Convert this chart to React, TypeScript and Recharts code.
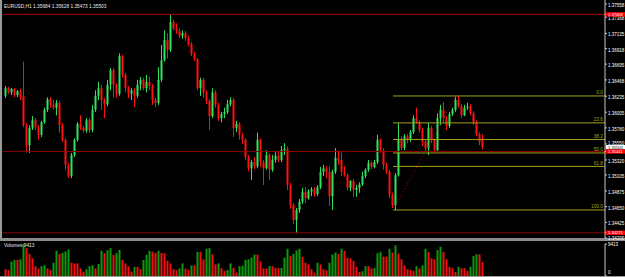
import { Bar, Cell, ComposedChart, ReferenceLine, XAxis, YAxis } from 'recharts';

const opens = [
  1.3624, 1.3635, 1.3629, 1.3634, 1.3625, 1.3631, 1.3624, 1.3582, 1.3553, 1.3578,
  1.3589, 1.3579, 1.3568, 1.3586, 1.3604, 1.3619, 1.3611, 1.3607, 1.3614, 1.3582,
  1.3561, 1.3525, 1.3509, 1.3539, 1.3561, 1.3584, 1.3578, 1.3574, 1.3589, 1.3575,
  1.3604, 1.3624, 1.3635, 1.3618, 1.3612, 1.364, 1.3661, 1.364, 1.3627, 1.3681,
  1.3654, 1.3635, 1.3627, 1.3632, 1.3624, 1.364, 1.3647, 1.3635, 1.3644, 1.3638,
  1.3618, 1.3614, 1.3647, 1.3675, 1.3704, 1.369, 1.373, 1.3721, 1.3717, 1.371,
  1.3714, 1.3707, 1.3698, 1.3684, 1.3677, 1.3635, 1.3647, 1.3629, 1.3617, 1.3595,
  1.3629, 1.3611, 1.3592, 1.3598, 1.3601, 1.3612, 1.3618, 1.3578, 1.3584, 1.3568,
  1.3561, 1.3536, 1.352, 1.3529, 1.3523, 1.3561, 1.3529, 1.352, 1.3539, 1.3518,
  1.3532, 1.3538, 1.3532, 1.3546, 1.3548, 1.3496, 1.3467, 1.3446, 1.346, 1.3472,
  1.3486, 1.3477, 1.3487, 1.349, 1.3483, 1.3493, 1.3515, 1.352, 1.3515, 1.348,
  1.3515, 1.3535, 1.3532, 1.3515, 1.351, 1.3492, 1.3502, 1.3489, 1.3492, 1.3497,
  1.3509, 1.3518, 1.3528, 1.3522, 1.3529, 1.3561, 1.3546, 1.3525, 1.3515, 1.3482,
  1.3467, 1.351, 1.3561, 1.3549, 1.3566, 1.3561, 1.3572, 1.3592, 1.3586, 1.3575,
  1.3558, 1.3549, 1.3578, 1.3561, 1.3546, 1.3592, 1.3604, 1.3592, 1.3581, 1.3598,
  1.3604, 1.3618, 1.3609, 1.3596, 1.3607, 1.3609, 1.3599, 1.3586, 1.3569, 1.35628,
];
const highs = [
  1.3638, 1.3637, 1.3635, 1.3635, 1.3632, 1.3634, 1.3673, 1.3585, 1.3582, 1.3595,
  1.3592, 1.3582, 1.3588, 1.3607, 1.3622, 1.3622, 1.3618, 1.3618, 1.3617, 1.3585,
  1.3563, 1.3528, 1.3542, 1.3563, 1.3586, 1.3596, 1.3581, 1.3592, 1.3592, 1.3611,
  1.3632, 1.3644, 1.364, 1.3621, 1.3647, 1.3664, 1.3664, 1.3642, 1.3685, 1.3683,
  1.3657, 1.3638, 1.3635, 1.3635, 1.3647, 1.3651, 1.365, 1.3654, 1.3652, 1.3641,
  1.3621, 1.3665, 1.3697, 1.3718, 1.3714, 1.374, 1.3733, 1.3728, 1.3721, 1.3718,
  1.3717, 1.371, 1.3701, 1.3687, 1.3678, 1.365, 1.365, 1.3632, 1.3619, 1.3635,
  1.3632, 1.3614, 1.3601, 1.3607, 1.3618, 1.3622, 1.3621, 1.3588, 1.3586, 1.3571,
  1.3563, 1.3539, 1.3532, 1.3536, 1.3571, 1.3563, 1.3532, 1.3546, 1.3542, 1.3539,
  1.3543, 1.3543, 1.3552, 1.3556, 1.3551, 1.3499, 1.347, 1.3463, 1.3476, 1.3492,
  1.3493, 1.349, 1.3493, 1.3493, 1.3496, 1.3522, 1.3525, 1.3523, 1.3523, 1.3518,
  1.3549, 1.3546, 1.3543, 1.3523, 1.3513, 1.3503, 1.3505, 1.3496, 1.35, 1.3515,
  1.352, 1.3532, 1.353, 1.3532, 1.3568, 1.3563, 1.3549, 1.3528, 1.3518, 1.3485,
  1.3513, 1.3585, 1.3566, 1.3569, 1.3569, 1.3575, 1.3596, 1.3607, 1.3589, 1.3578,
  1.3561, 1.3585, 1.3581, 1.3563, 1.3599, 1.3611, 1.3615, 1.3595, 1.3601, 1.3607,
  1.3624, 1.3624, 1.3612, 1.3611, 1.3614, 1.3612, 1.3602, 1.3589, 1.3572, 1.35684,
];
const lows = [
  1.3621, 1.3627, 1.3625, 1.3622, 1.3622, 1.3618, 1.3579, 1.3543, 1.3542, 1.3575,
  1.3575, 1.3561, 1.3565, 1.3584, 1.3601, 1.3607, 1.3604, 1.3596, 1.3571, 1.3558,
  1.3518, 1.3506, 1.3506, 1.3536, 1.3558, 1.3575, 1.3571, 1.3571, 1.3571, 1.3572,
  1.3601, 1.3618, 1.3604, 1.3592, 1.3609, 1.3632, 1.3622, 1.3621, 1.3624, 1.365,
  1.3629, 1.3621, 1.3618, 1.3608, 1.3621, 1.3632, 1.3632, 1.3629, 1.3632, 1.3611,
  1.3608, 1.3611, 1.3644, 1.3673, 1.3678, 1.3687, 1.3718, 1.3713, 1.3707, 1.3706,
  1.3703, 1.3695, 1.3681, 1.3674, 1.3632, 1.3624, 1.3621, 1.3612, 1.3575, 1.3592,
  1.3607, 1.3588, 1.3586, 1.3592, 1.3598, 1.3609, 1.3565, 1.3572, 1.3561, 1.3555,
  1.3532, 1.3516, 1.3503, 1.3519, 1.352, 1.3522, 1.3496, 1.3518, 1.3503, 1.3515,
  1.3528, 1.3529, 1.3529, 1.3539, 1.3489, 1.3462, 1.344, 1.3427, 1.3456, 1.3469,
  1.347, 1.3475, 1.348, 1.3479, 1.348, 1.349, 1.3509, 1.3506, 1.3466, 1.346,
  1.3512, 1.3525, 1.3509, 1.3508, 1.3489, 1.3487, 1.3479, 1.3479, 1.3485, 1.3495,
  1.3506, 1.3515, 1.3519, 1.352, 1.3526, 1.3542, 1.3518, 1.3512, 1.3477, 1.3463,
  1.346, 1.3508, 1.3546, 1.3546, 1.3556, 1.3558, 1.3569, 1.3584, 1.3571, 1.3552,
  1.3543, 1.3539, 1.3556, 1.3542, 1.3543, 1.3582, 1.3586, 1.3575, 1.3578, 1.3595,
  1.3601, 1.3607, 1.3592, 1.3595, 1.3604, 1.3596, 1.3582, 1.3566, 1.3553, 1.35473,
];
const closes = [
  1.3635, 1.3629, 1.3634, 1.3625, 1.3631, 1.3622, 1.3582, 1.3553, 1.3578, 1.3589,
  1.3579, 1.3568, 1.3586, 1.3604, 1.3619, 1.3611, 1.3607, 1.3614, 1.3582, 1.3561,
  1.3525, 1.3509, 1.3539, 1.3561, 1.3584, 1.3578, 1.3574, 1.3589, 1.3575, 1.3604,
  1.3624, 1.3635, 1.3618, 1.3612, 1.364, 1.3661, 1.364, 1.3627, 1.3681, 1.3654,
  1.3635, 1.3627, 1.3632, 1.3624, 1.364, 1.3647, 1.3635, 1.3644, 1.3638, 1.3618,
  1.3614, 1.3647, 1.3675, 1.3704, 1.369, 1.373, 1.3721, 1.3717, 1.371, 1.3714,
  1.3707, 1.3698, 1.3684, 1.3677, 1.3635, 1.3647, 1.3629, 1.3617, 1.3595, 1.3629,
  1.3611, 1.3592, 1.3598, 1.3601, 1.3612, 1.3618, 1.3578, 1.3584, 1.3568, 1.3561,
  1.3536, 1.352, 1.3529, 1.3523, 1.3561, 1.3529, 1.352, 1.3539, 1.3518, 1.3532,
  1.3538, 1.3532, 1.3546, 1.3548, 1.3496, 1.3467, 1.3446, 1.346, 1.3472, 1.3486,
  1.3477, 1.3487, 1.349, 1.3483, 1.3493, 1.3515, 1.352, 1.3515, 1.348, 1.3515,
  1.3535, 1.3532, 1.3515, 1.351, 1.3492, 1.3502, 1.3489, 1.3492, 1.3497, 1.3509,
  1.3518, 1.3528, 1.3522, 1.3529, 1.3561, 1.3546, 1.3525, 1.3515, 1.3482, 1.3467,
  1.351, 1.3561, 1.3549, 1.3566, 1.3561, 1.3572, 1.3592, 1.3586, 1.3575, 1.3558,
  1.3549, 1.3578, 1.3561, 1.3546, 1.3592, 1.3604, 1.3592, 1.3581, 1.3598, 1.3604,
  1.3618, 1.3609, 1.3596, 1.3607, 1.3609, 1.3599, 1.3586, 1.3569, 1.3558, 1.35503,
];
const volumes = [
  2000, 1800, 4200, 4700, 4700, 4900, 9413, 8200, 6500, 5200,
  2900, 2200, 2900, 3200, 2200, 1800, 3900, 7400, 6500, 6800,
  7200, 7800, 3900, 3700, 3700, 2200, 1300, 2000, 2900, 3200,
  2200, 3500, 7400, 6700, 7600, 8200, 6200, 6700, 7700, 4700,
  3700, 2900, 1300, 2700, 2700, 2000, 4700, 6200, 7400, 7200,
  6800, 7400, 6800, 6700, 4500, 3700, 2000, 1800, 2200, 3700,
  2200, 1800, 3100, 3100, 7100, 7100, 4900, 8000, 8200, 6400,
  3400, 3700, 2300, 1500, 1800, 3700, 2400, 1000, 2900, 3000,
  4700, 4900, 5400, 6300, 6300, 4300, 2200, 2200, 2900, 2900,
  2400, 2300, 2400, 5400, 8000, 5900, 6500, 7500, 8000, 5600,
  3900, 3400, 2000, 1000, 3900, 3400, 2000, 1700, 3900, 6300,
  6900, 6500, 8000, 7400, 5400, 5200, 4400, 2700, 1200, 1400,
  2900, 2900, 2200, 2300, 6700, 7100, 5700, 5700, 8000, 6900,
  9000, 6600, 4900, 3100, 2000, 1800, 1500, 2900, 2200, 3100,
  8000, 7100, 5200, 4900, 7600, 8600, 7100, 4900, 2700, 2300,
  1200, 2700, 2300, 2300, 1500, 2700, 5900, 6400, 6400, 4100,
];

const priceTicks = [
  1.37558, 1.37368, 1.37135, 1.36918, 1.36695, 1.36468, 1.36235, 1.36005,
  1.3578, 1.3555, 1.3532, 1.35105, 1.34875, 1.3465, 1.34425, 1.342,
];
// coloured price tags on the right scale
const tagPrices = [1.37408, 1.35503, 1.35441, 1.34275];
const levelLines = [1.37408, 1.35441, 1.34275];

const fibLabels = ['0.0', '23.6', '38.2', '50.0', '61.8', '100.0'];
const fibPrices = [1.36238, 1.35852, 1.35613, 1.3542, 1.35227, 1.34602];
const fibFrom = 129;
const fibTo = 150;

const title = 'EURUSD,H1 1.35684 1.35628 1.35473 1.35503';
const volumeMax = 9413;

const X_MIN = -1;
const X_MAX = 199.67;
const PRICE_MIN = 1.342;
const PRICE_MAX = 1.37615;

const BULL = '#2fe35f';
const BEAR = '#ff1111';
const VOL_UP = '#0c9a0c';
const VOL_DOWN = '#f01010';
const FIB = '#a0a01c';
const LEVEL = '#8a0000';
const AXIS = '#c8c8c8';
const FONT = '"Liberation Sans", Arial, sans-serif';

const candles = opens.map((open, i) => ({
  i,
  open,
  high: highs[i],
  low: lows[i],
  close: closes[i],
  range: [lows[i], highs[i]],
}));

const volumeRows = volumes.map((vol, i) => ({ i, vol }));

const Candle = (props: any) => {
  const { x, y, width, height, payload } = props;
  if (!payload) return null;
  const top = Math.min(y, y + height);
  const h = Math.abs(height);
  const span = payload.high - payload.low || 1;
  const up = payload.close >= payload.open;
  const color = up ? BULL : BEAR;
  const yOpen = top + ((payload.high - payload.open) / span) * h;
  const yClose = top + ((payload.high - payload.close) / span) * h;
  const cx = x + width / 2;
  return (
    <g>
      <line x1={cx} x2={cx} y1={top} y2={top + h} stroke={color} strokeWidth={1} />
      <rect
        x={x}
        y={Math.min(yOpen, yClose)}
        width={width}
        height={Math.max(1, Math.abs(yOpen - yClose))}
        fill={color}
      />
    </g>
  );
};

// vertical text offsets so the crowded labels do not collide
const tickOffset = (v: number) => {
  if (tagPrices.includes(v)) return 1.5;
  if (v === 1.342) return 1.6;
  if (v === 1.3555) return 0.7;
  return 3;
};

const PriceTick = (props: any) => {
  const { x, y, payload } = props;
  const v = payload.value;
  const isTag = tagPrices.includes(v);
  const bid = v === 1.35503;
  return (
    <g>
      {isTag && <rect x={x - 2} y={y - 2.2} width={22} height={4.4} fill={bid ? '#ffffff' : '#ff0000'} />}
      <text
        x={x}
        y={y}
        dy={tickOffset(v)}
        fontSize={isTag ? 4.1 : 4.5}
        fontFamily={FONT}
        fill={bid ? '#000000' : '#ffffff'}
        textAnchor="start"
      >
        {v.toFixed(5)}
      </text>
    </g>
  );
};

const VolumeTick = (props: any) => {
  const { x, y, payload } = props;
  return (
    <text x={x} y={y} dy={payload.value === 0 ? -2 : 2.2} fontSize={4.5} fontFamily={FONT} fill="#ffffff">
      {payload.value}
    </text>
  );
};

const fibLabel = (text: string) => (props: any) => {
  const vb = props.viewBox || {};
  return (
    <text
      x={(vb.x || 0) + (vb.width || 0) - 2}
      y={(vb.y || 0) - 1.5}
      textAnchor="end"
      fontSize={4.8}
      fontFamily={FONT}
      fill={FIB}
    >
      {text}
    </text>
  );
};

export default function App() {
  return (
    <div style={{ position: 'relative', width: 625, height: 277, background: '#000', overflow: 'hidden' }}>
      <style>{'body{margin:0;background:#000}.recharts-wrapper,.recharts-surface{overflow:visible}'}</style>
      <div style={{ position: 'absolute', left: 0, top: 0, width: 2, height: 238, background: '#9a9a9a' }} />
      <div style={{ position: 'absolute', left: 0, top: 238, width: 625, height: 3, background: '#8c8c8c' }} />
      <div style={{ position: 'absolute', left: 0, top: 276, width: 625, height: 1, background: '#9a9a9a' }} />
      <div style={{ position: 'absolute', left: 0, top: 241 }}>
        <ComposedChart width={625} height={36} data={volumeRows} margin={{ top: 3, right: 0, bottom: 1, left: 3 }}>
          <XAxis dataKey="i" type="number" domain={[X_MIN, X_MAX]} hide />
          <YAxis
            orientation="right"
            width={20}
            domain={[0, volumeMax]}
            ticks={[volumeMax, 0]}
            interval={0}
            tickSize={2}
            tickMargin={1}
            stroke={AXIS}
            tick={<VolumeTick />}
          />
          <Bar dataKey="vol" barSize={2} isAnimationActive={false}>
            {volumes.map((v, i) => (
              <Cell key={i} fill={i > 0 && v > volumes[i - 1] ? VOL_UP : VOL_DOWN} />
            ))}
          </Bar>
        </ComposedChart>
      </div>
      <div style={{ position: 'absolute', left: 0, top: 0 }}>
        <ComposedChart width={625} height={238} data={candles} margin={{ top: 0, right: 0, bottom: 0, left: 3 }}>
          <XAxis dataKey="i" type="number" domain={[X_MIN, X_MAX]} hide />
          <YAxis
            orientation="right"
            width={20}
            domain={[PRICE_MIN, PRICE_MAX]}
            ticks={[...priceTicks, ...tagPrices]}
            interval={0}
            allowDataOverflow
            tickSize={2}
            tickMargin={1}
            stroke={AXIS}
            tick={<PriceTick />}
          />
          {levelLines.map((p) => (
            <ReferenceLine key={p} y={p} stroke={LEVEL} strokeWidth={1.2} />
          ))}
          {fibPrices.map((p, k) => (
            <ReferenceLine
              key={fibLabels[k]}
              segment={[
                { x: fibFrom, y: p },
                { x: X_MAX, y: p },
              ]}
              stroke={FIB}
              strokeWidth={1}
              label={fibLabel(fibLabels[k])}
            />
          ))}
          <ReferenceLine
            segment={[
              { x: fibFrom, y: fibPrices[5] },
              { x: fibTo, y: fibPrices[0] },
            ]}
            stroke="#b00000"
            strokeDasharray="1 2"
          />
          <Bar dataKey="range" barSize={2} shape={<Candle />} isAnimationActive={false} />
        </ComposedChart>
      </div>
      <svg style={{ position: 'absolute', left: 0, top: 0 }} width={625} height={277}>
        <text x={4} y={8} fontSize={4.8} fontFamily={FONT} fill="#e8e8e8">
          {title}
        </text>
        <text x={4} y={247} fontSize={4.8} fontFamily={FONT} fill="#e8e8e8">
          {`Volumes ${volumeMax}`}
        </text>
      </svg>
    </div>
  );
}
